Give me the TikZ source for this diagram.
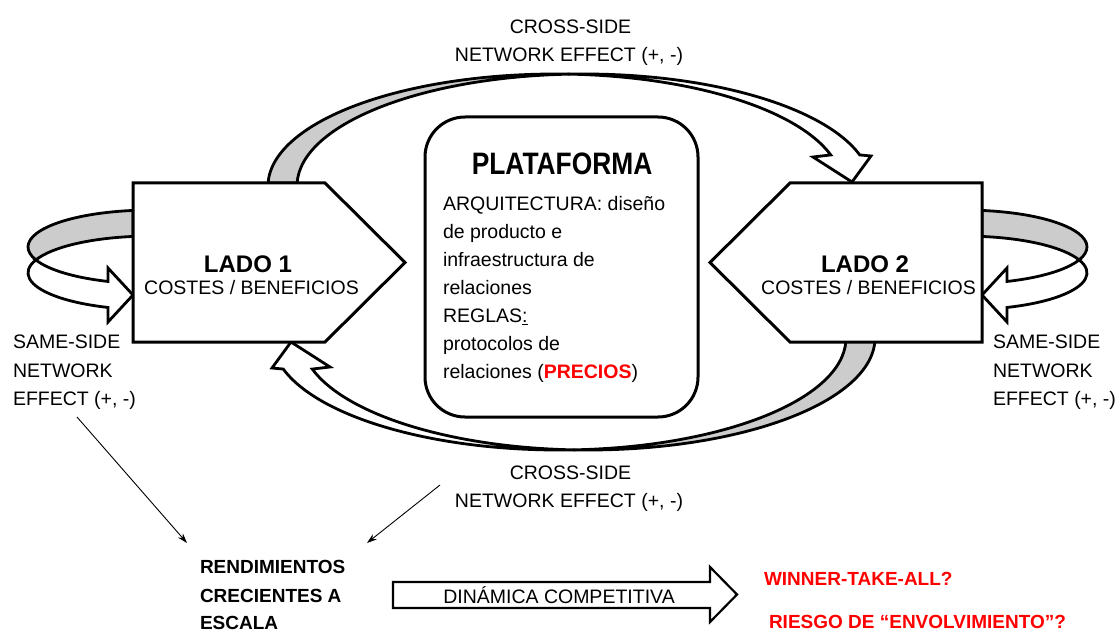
\documentclass[tikz,border=0pt]{standalone}
\usepackage{fontspec}
\setmainfont{Liberation Sans}
\usepackage{graphicx}
\usetikzlibrary{arrows.meta}

\definecolor{ribbongray}{RGB}{204,204,204}
\definecolor{alertred}{RGB}{255,0,0}

\newcommand\bodysize{\fontsize{19.5}{28}\selectfont}
\newcommand\boldsize{\fontsize{19}{28}\selectfont\bfseries}

% Cross-side ribbon: two equal half-ellipses shifted sideways; the shaded
% back face shows on the left, the white front face ends in an arrowhead.
\newcommand\crossribbon{%
  \path[ribbon, fill=ribbongray]
    (268.10,183.07) arc[start angle=181.5, end angle=272.896, x radius=287, y radius=112]
    arc[start angle=267.104, end angle=181.5, x radius=287, y radius=112] -- cycle;
  \path[ribbon, fill=white]
    (569.50,74.14) arc[start angle=267.104, end angle=343.9, x radius=287, y radius=112]
    -- (871,156) -- (852,182) -- (813,157) -- (830.74,154.94)
    arc[start angle=343.9, end angle=272.896, x radius=287, y radius=112] -- cycle;
}

% Same-side ribbon: two equal half-ellipses shifted vertically, arrow pointing right.
\newcommand\sameribbon{%
  \path[ribbon, fill=ribbongray]
    (133.02,210.46) arc[start angle=262, end angle=159.314, x radius=122, y radius=36.8]
    arc[start angle=200.686, end angle=262, x radius=122, y radius=36.8] -- cycle;
  \path[ribbon, fill=white]
    (35.87,259.90) arc[start angle=200.686, end angle=110.1, x radius=122, y radius=36.8]
    -- (108,322) -- (133,295) -- (108,268) -- (108.07,281.46)
    arc[start angle=110.1, end angle=159.314, x radius=122, y radius=36.8] -- cycle;
}

\begin{document}
\begin{tikzpicture}[x=1pt,y=-1pt,
  ribbon/.style={draw=black, line width=2.8pt, line join=miter, miter limit=8},
  boxline/.style={draw=black, fill=white, line width=3pt, line join=miter},
  lbl/.style={inner sep=0pt, outer sep=0pt, font=\bodysize},
  blbl/.style={inner sep=0pt, outer sep=0pt, font=\boldsize},
  pointer/.style={line width=0.9pt, -{Stealth[length=10pt,width=6.5pt]}},
]
\useasboundingbox (0,0) rectangle (1118,631);
\fill[white] (0,0) rectangle (1118,631);

% curved ribbons
\crossribbon
\begin{scope}[rotate around={180:(571.5,262)}]
  \crossribbon
\end{scope}
\sameribbon
\begin{scope}[shift={(1115,0)},xscale=-1]
  \sameribbon
\end{scope}

% the two sides and the platform
\draw[boxline] (133,183) -- (325,183) -- (405,262.5) -- (325,342) -- (133,342) -- cycle;
\draw[boxline] (982,183) -- (790,183) -- (710,262.5) -- (790,342) -- (982,342) -- cycle;
\draw[boxline, rounded corners=40pt] (425,117) rectangle (698,417);

% cross-side labels
\node[lbl, anchor=base] (ctop1) at (570.5,34) {CROSS-SIDE};
\node[lbl, anchor=base] (ctop2) at (569,62) {NETWORK EFFECT (+, -)};
\node[lbl, anchor=base] (cbot1) at (570.5,479) {CROSS-SIDE};
\node[lbl, anchor=base] (cbot2) at (569,507) {NETWORK EFFECT (+, -)};

% side labels
\node[lbl, anchor=base, font=\fontsize{24}{28}\selectfont\bfseries] (lado1) at (248,272) {LADO 1};
\node[lbl, anchor=base] (cost1) at (251.5,294) {COSTES / BENEFICIOS};
\node[lbl, anchor=base, font=\fontsize{24}{28}\selectfont\bfseries] (lado2) at (865,272) {LADO 2};
\node[lbl, anchor=base] (cost2) at (868.5,294) {COSTES / BENEFICIOS};

% same-side labels
\node[lbl, anchor=base west] (ssl1) at (13,348) {SAME-SIDE};
\node[lbl, anchor=base west] (ssl2) at (13,377) {NETWORK};
\node[lbl, anchor=base west] (ssl3) at (13,405) {EFFECT (+, -)};
\node[lbl, anchor=base west] (ssr1) at (993,348) {SAME-SIDE};
\node[lbl, anchor=base west] (ssr2) at (993,377) {NETWORK};
\node[lbl, anchor=base west] (ssr3) at (993,405) {EFFECT (+, -)};

% platform contents
\node[lbl, anchor=base, font=\fontsize{31}{31}\selectfont\bfseries] (ptitle) at (562,175) {\scalebox{0.85}[1]{PLATAFORMA}};
\node[lbl, anchor=base west] (pl1) at (443,210) {ARQUITECTURA: diseño};
\node[lbl, anchor=base west] (pl2) at (443,238.5) {de producto e};
\node[lbl, anchor=base west] (pl3) at (443,266.5) {infraestructura de};
\node[lbl, anchor=base west] (pl4) at (443,294.5) {relaciones};
\node[lbl, anchor=base west] (pl5) at (443,322.5) {REGLAS\underline{:}};
\node[lbl, anchor=base west] (pl6) at (443,350.5) {protocolos de};
\node[lbl, anchor=base west] (pl7) at (443,378.5) {relaciones (\textcolor{alertred}{\bfseries PRECIOS})};

% increasing returns
\node[blbl, anchor=base west] (rend1) at (200,573) {RENDIMIENTOS};
\node[blbl, anchor=base west] (rend2) at (200,602) {CRECIENTES A};
\node[blbl, anchor=base west] (rend3) at (200,629) {ESCALA};

\coordinate (ssfoot) at (77,417);
\coordinate (rendleft) at (187,543);
\coordinate (cbfoot) at (440,485);
\coordinate (rendright) at (367,543);
\draw[pointer] (ssfoot) -- (rendleft);
\draw[pointer] (cbfoot) -- (rendright);

% competitive dynamics block arrow
\draw[line width=2.2pt, line join=miter, fill=white]
  (393,582) -- (710,582) -- (710,567) -- (737,594.5) -- (710,622) -- (710,608) -- (393,608) -- cycle;
\node[lbl, anchor=base] (dyn) at (559,603) {DINÁMICA COMPETITIVA};

% outcomes
\node[blbl, anchor=base west, text=alertred] (wta) at (764,585) {WINNER-TAKE-ALL?};
\node[blbl, anchor=base west, text=alertred] (risk) at (769,628) {RIESGO DE “ENVOLVIMIENTO”?};
\end{tikzpicture}
\end{document}
